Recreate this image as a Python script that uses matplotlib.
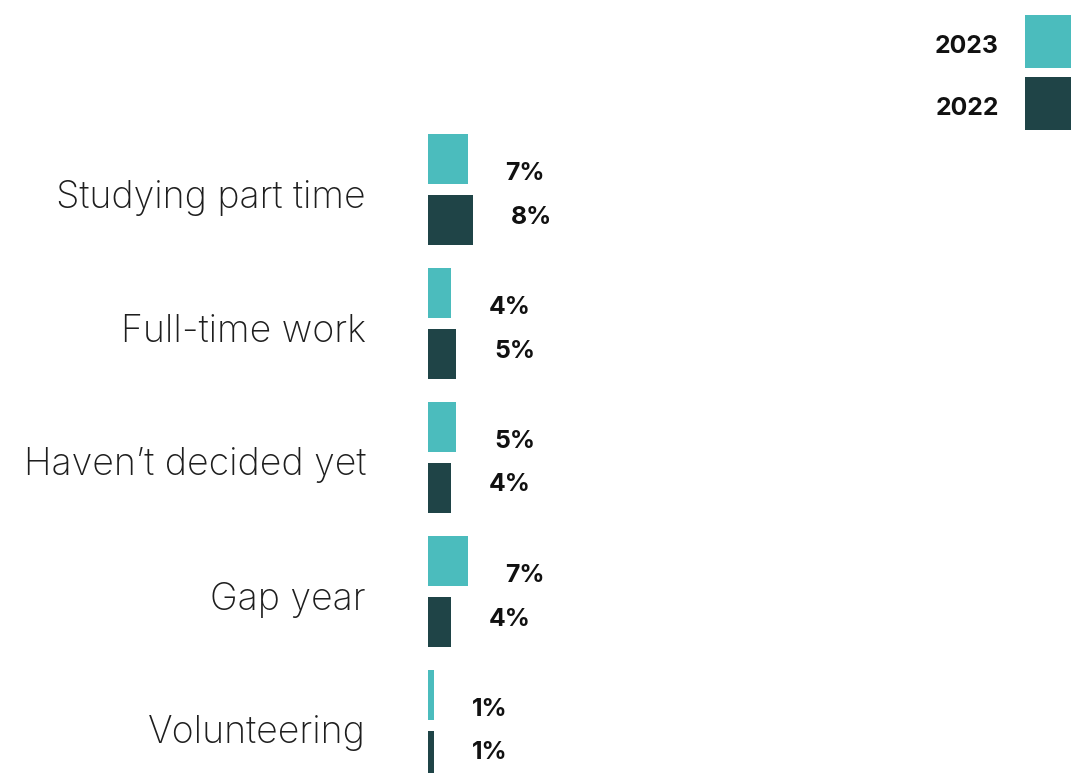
import matplotlib
matplotlib.use("Agg")
import matplotlib.pyplot as plt
from matplotlib.patches import Rectangle
import numpy as np

categories = ["Studying part time", "Full-time work", "Haven\u2019t decided yet", "Gap year", "Volunteering"]
values_2023 = [7, 4, 5, 7, 1]
values_2022 = [8, 5, 4, 4, 1]
series_names = ["2023", "2022"]
colors = ["#4bbcbd", "#1f4447"]

W, H, DPI = 1071, 773, 100
fig = plt.figure(figsize=(W / DPI, H / DPI), dpi=DPI)
fig.patch.set_facecolor("white")

# axes: left edge at the bar origin, ~5.65 px per percentage point, groups 134 px apart
left_px = 428
px_per_pct = 5.65
ax = fig.add_axes([left_px / W, 0, 100 * px_per_pct / W, 1])
ax.set_xlim(0, 100)
ax.set_ylim((H - 189.5) / 134, -189.5 / 134)
ax.axis("off")

y = np.arange(len(categories))
off = 30.5 / 134
bh = 50 / 134

ax.barh(y - off, values_2023, height=bh, color=colors[0], linewidth=0)
ax.barh(y + off, values_2022, height=bh, color=colors[1], linewidth=0)

lab_dx = 38 / px_per_pct
lab_font = dict(family=["Inter", "DejaVu Sans"], fontweight="bold", fontsize=17.8, color="#111111")
for yi, v in zip(y, values_2023):
    ax.text(v + lab_dx, yi - off + 15 / 134, f"{v}%", va="center", ha="left", **lab_font)
for yi, v in zip(y, values_2022):
    ax.text(v + lab_dx, yi + off - 3 / 134, f"{v}%", va="center", ha="left", **lab_font)

# category labels
for yi, c in zip(y, categories):
    ax.text(-62 / px_per_pct, yi + 8 / 134, c, ha="right", va="center",
            family=["Inter", "DejaVu Sans"], fontweight="light", fontsize=27, color="#1e1e1e")

# legend in the top right corner
leg_items = [(series_names[0], colors[0], 15, 68), (series_names[1], colors[1], 77, 130)]
for name, col, top, bot in leg_items:
    fig.patches.append(Rectangle((1025 / W, 1 - bot / H), 50 / W, (bot - top) / H,
                                 transform=fig.transFigure, facecolor=col, linewidth=0))
    fig.text(999 / W, 1 - ((top + bot) / 2 + 5) / H, name, ha="right", va="center",
             family=["Inter", "DejaVu Sans"], fontweight="bold", fontsize=17.8, color="#111111")

fig.savefig("out.png", dpi=DPI)
